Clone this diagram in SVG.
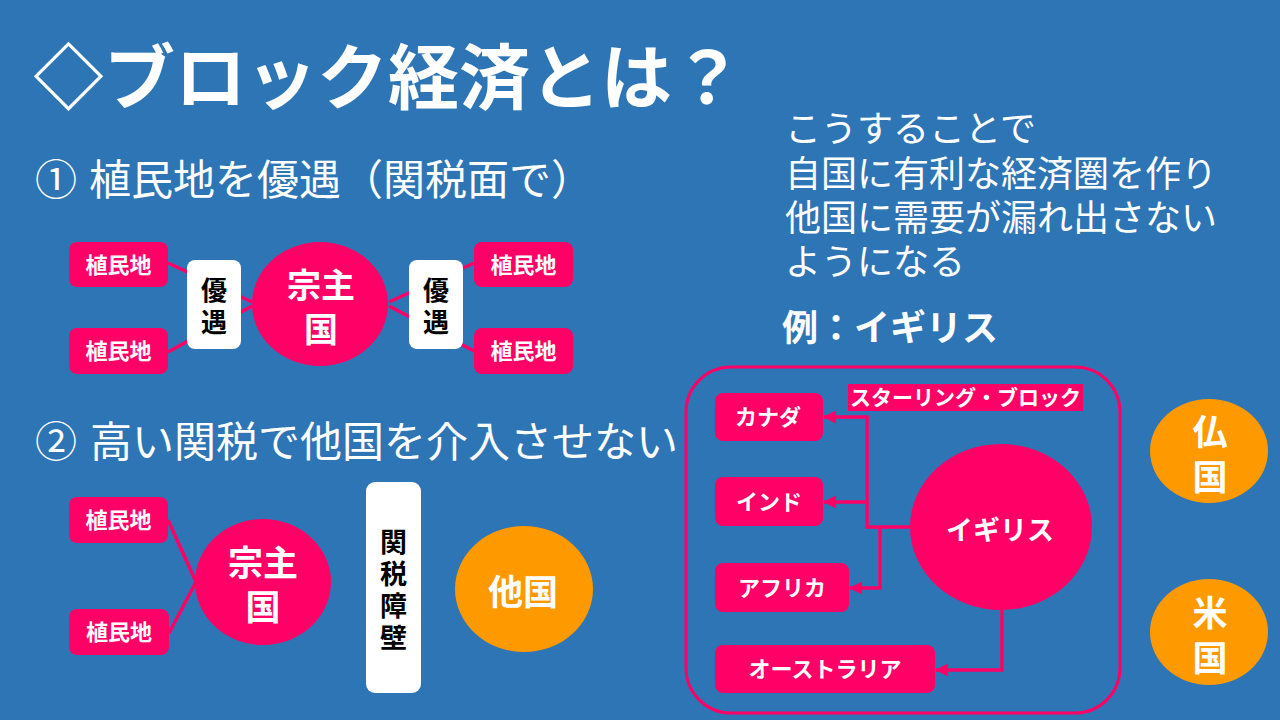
<svg xmlns="http://www.w3.org/2000/svg" width="1280" height="720" viewBox="0 0 1280 720">
<defs>
<style>
.t{font-family:"Noto Sans CJK JP","Noto Sans",sans-serif;}
.w{fill:#FFFFFF;}
.k{fill:#000000;}
.b{font-weight:700;}
.m{text-anchor:middle;}
.v{writing-mode:vertical-rl;}
.pk{fill:#FF0066;}
.or{fill:#FF9900;}
.wb{fill:#FFFFFF;}
.ln{stroke:#FF0066;stroke-width:3.5;fill:none;}
</style>
<marker id="ah" markerUnits="userSpaceOnUse" markerWidth="13" markerHeight="13" viewBox="0 0 12 12" refX="11" refY="6" orient="auto">
<path d="M0,0 L12,6 L0,12 z" fill="#FF0066"/>
</marker>
</defs>
<rect x="0" y="0" width="1280" height="720" fill="#2E75B6"/>

<g id="texts">
<text class="t w b" x="33" y="103" font-size="71" font-weight="900">◇ブロック経済とは？</text>
<text class="t w" y="195" font-size="42"><tspan x="35">①</tspan><tspan x="89">植民地を優遇（関税面で）</tspan></text>
<text class="t w" y="457" font-size="42"><tspan x="35">②</tspan><tspan x="90">高い関税で他国を介入させない</tspan></text>
<text class="t w" font-size="36">
<tspan x="785" y="142">こうすることで</tspan>
<tspan x="785" y="187">自国に有利な経済圏を作り</tspan>
<tspan x="785" y="231">他国に需要が漏れ出さない</tspan>
<tspan x="785" y="275">ようになる</tspan>
</text>
<text class="t w b" x="782" y="341" font-size="36">例：イギリス</text>
</g>

<g id="connectors">
<line class="ln" x1="168" y1="263" x2="252" y2="302"/>
<line class="ln" x1="168" y1="352" x2="252" y2="306"/>
<line class="ln" x1="389" y1="302" x2="474" y2="263"/>
<line class="ln" x1="389" y1="306" x2="474" y2="351"/>
<line class="ln" x1="168" y1="520" x2="196" y2="582"/>
<line class="ln" x1="169" y1="633" x2="196" y2="582"/>
<path class="ln" d="M912,527 H867 V417 H824" marker-end="url(#ah)"/>
<path class="ln" d="M867,502 H824" marker-end="url(#ah)"/>
<path class="ln" d="M880,527 V588 H850" marker-end="url(#ah)"/>
<path class="ln" d="M1002,608 V670 H936" marker-end="url(#ah)"/>
</g>

<g id="s1-colony-tl"><rect class="pk" x="69" y="242" width="99" height="45" rx="8"/><text class="t w b m" x="118.5" y="273" font-size="22">植民地</text></g>
<g id="s1-colony-bl"><rect class="pk" x="69" y="328" width="99" height="46" rx="8"/><text class="t w b m" x="118.5" y="359" font-size="22">植民地</text></g>
<g id="s1-colony-tr"><rect class="pk" x="474" y="242" width="99" height="45" rx="8"/><text class="t w b m" x="523.5" y="273" font-size="22">植民地</text></g>
<g id="s1-colony-br"><rect class="pk" x="474" y="328" width="99" height="46" rx="8"/><text class="t w b m" x="523.5" y="359" font-size="22">植民地</text></g>
<g id="s1-yugu-l"><rect class="wb" x="187" y="260" width="54" height="89" rx="8"/><text class="t k b m v" x="214" y="309" font-size="26" letter-spacing="6">優遇</text></g>
<g id="s1-yugu-r"><rect class="wb" x="409" y="260" width="54" height="89" rx="8"/><text class="t k b m v" x="436" y="309" font-size="26" letter-spacing="6">優遇</text></g>
<g id="s1-suzerain"><ellipse class="pk" cx="320" cy="304" rx="68" ry="62"/><text class="t w b m" font-size="34"><tspan x="321" y="298">宗主</tspan><tspan x="321" y="342">国</tspan></text></g>

<g id="s2-colony-t"><rect class="pk" x="69" y="497" width="99" height="46" rx="8"/><text class="t w b m" x="118.5" y="528" font-size="22">植民地</text></g>
<g id="s2-colony-b"><rect class="pk" x="69" y="609" width="100" height="46" rx="8"/><text class="t w b m" x="119" y="640" font-size="22">植民地</text></g>
<g id="s2-suzerain"><ellipse class="pk" cx="263" cy="582" rx="68" ry="63"/><text class="t w b m" font-size="35"><tspan x="263" y="576">宗主</tspan><tspan x="263" y="620">国</tspan></text></g>
<g id="s2-barrier"><rect class="wb" x="366" y="482" width="55" height="211" rx="9"/><text class="t k b m v" x="393.5" y="592.5" font-size="27" letter-spacing="5">関税障壁</text></g>
<g id="s2-other"><ellipse class="or" cx="524" cy="589" rx="69" ry="63"/><text class="t w b m" x="523" y="605" font-size="35">他国</text></g>

<g id="sterling-block">
<rect x="686" y="367" width="434" height="346" rx="45" fill="none" stroke="#FF0066" stroke-width="3"/>
<rect class="pk" x="848" y="384" width="235" height="27"/>
<text class="t w b m" x="965.5" y="405" font-size="21">スターリング・ブロック</text>
</g>
<g id="canada"><rect class="pk" x="715" y="393" width="108" height="48" rx="8"/><text class="t w b m" x="768" y="425" font-size="22">カナダ</text></g>
<g id="india"><rect class="pk" x="715" y="477" width="108" height="49" rx="8"/><text class="t w b m" x="769" y="510" font-size="22">インド</text></g>
<g id="africa"><rect class="pk" x="715" y="563" width="134" height="49" rx="8"/><text class="t w b m" x="782" y="596" font-size="22">アフリカ</text></g>
<g id="australia"><rect class="pk" x="715" y="645" width="220" height="48" rx="8"/><text class="t w b m" x="825" y="677" font-size="22">オーストラリア</text></g>
<g id="britain"><ellipse class="pk" cx="1001" cy="527" rx="91" ry="83"/><text class="t w b m" x="1000" y="540" font-size="27">イギリス</text></g>

<g id="france"><ellipse class="or" cx="1209" cy="451" rx="59" ry="52"/><text class="t w b m v" x="1210" y="459.5" font-size="35" letter-spacing="10">仏国</text></g>
<g id="usa"><ellipse class="or" cx="1209" cy="632" rx="59" ry="53"/><text class="t w b m v" x="1210" y="640.5" font-size="35" letter-spacing="10">米国</text></g>
</svg>
